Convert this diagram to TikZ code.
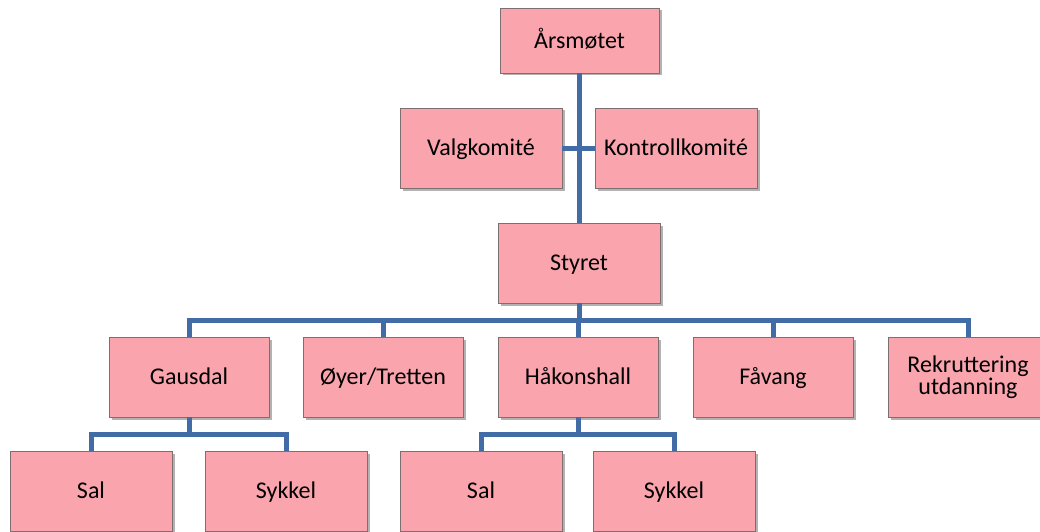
\documentclass[tikz,border=0pt]{standalone}
\usepackage{fontspec}
\setmainfont{Carlito}
\usetikzlibrary{shadows}
\definecolor{boxpink}{RGB}{250,164,174}
\definecolor{boxedge}{RGB}{125,110,112}
\definecolor{linkblue}{RGB}{66,108,166}
\tikzset{
  orgbox/.style={rectangle, draw=boxedge, line width=0.8pt, fill=boxpink,
    minimum width=162pt, minimum height=80pt, inner sep=0pt, align=center,
    font=\fontsize{24}{22.5}\selectfont, text height=15.3pt, text depth=0pt,
    drop shadow={shadow xshift=2.5pt, shadow yshift=-2.5pt, fill=black, opacity=0.3}},
  link/.style={draw=linkblue, line width=5pt}
}
\begin{document}
\begin{tikzpicture}[x=1pt,y=1pt]
\useasboundingbox (0,0) rectangle (1040,-532);
\coordinate (busA) at (0,-320);
\coordinate (busB) at (0,-434);
\node[orgbox, minimum width=159pt, minimum height=65pt] (ars) at (579.5,-40.5) {Årsmøtet};
\node[orgbox] (valg) at (481,-148) {Valgkomité};
\node[orgbox] (kontroll) at (676,-148) {Kontrollkomité};
\node[orgbox] (styret) at (579,-263) {Styret};
\node[orgbox, minimum width=160pt] (gausdal) at (189,-377) {Gausdal};
\node[orgbox, minimum width=160pt] (oyer) at (383,-377) {Øyer/Tretten};
\node[orgbox, minimum width=160pt] (hakon) at (578,-377) {Håkonshall};
\node[orgbox, minimum width=160pt] (favang) at (773,-377) {Fåvang};
\node[orgbox, minimum width=160pt, text height={}, text depth={}] (rekrut) at (968,-377) {Rekruttering\\utdanning};
\node[orgbox] (sal1) at (91,-491) {Sal};
\node[orgbox] (syk1) at (286,-491) {Sykkel};
\node[orgbox] (sal2) at (481,-491) {Sal};
\node[orgbox] (syk2) at (674,-491) {Sykkel};
% links
\draw[link] (ars.south -| styret.north) -- (styret.north);
\draw[link] (valg.east) -- (kontroll.west);
\draw[link] (styret.south) -- (styret.south |- busA);
\draw[link] (gausdal.north) -- (gausdal.north |- busA) -- (rekrut.north |- busA) -- (rekrut.north);
\draw[link] (oyer.north) -- (oyer.north |- busA);
\draw[link] (hakon.north) -- (hakon.north |- busA);
\draw[link] (favang.north) -- (favang.north |- busA);
\draw[link] (gausdal.south) -- (gausdal.south |- busB);
\draw[link] (sal1.north) -- (sal1.north |- busB) -- (syk1.north |- busB) -- (syk1.north);
\draw[link] (hakon.south) -- (hakon.south |- busB);
\draw[link] (sal2.north) -- (sal2.north |- busB) -- (syk2.north |- busB) -- (syk2.north);
\end{tikzpicture}
\end{document}
